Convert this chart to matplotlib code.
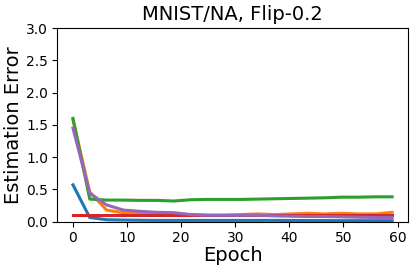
import numpy as np
import matplotlib.pyplot as plt

epochs = np.linspace(0, 59, 20)

err_blue = [0.57, 0.065, 0.03, 0.025, 0.022, 0.02, 0.02, 0.02, 0.02, 0.02,
            0.02, 0.02, 0.02, 0.018, 0.018, 0.017, 0.016, 0.016, 0.015, 0.015]
err_orange = [1.58, 0.46, 0.18, 0.14, 0.13, 0.125, 0.12, 0.11, 0.10, 0.10,
              0.11, 0.12, 0.11, 0.12, 0.13, 0.12, 0.13, 0.12, 0.12, 0.145]
err_green = [1.60, 0.35, 0.335, 0.335, 0.33, 0.33, 0.32, 0.34, 0.345, 0.345,
             0.345, 0.35, 0.355, 0.36, 0.365, 0.37, 0.38, 0.38, 0.385, 0.385]
err_red = [0.105] * 20
err_purple = [1.45, 0.44, 0.26, 0.18, 0.16, 0.145, 0.14, 0.11, 0.10, 0.10,
              0.10, 0.10, 0.09, 0.085, 0.08, 0.08, 0.075, 0.07, 0.065, 0.065]

spread_blue = [0.05, 0.01, 0.005, 0.005, 0.005, 0.005, 0.005, 0.005, 0.005, 0.005,
               0.005, 0.005, 0.005, 0.005, 0.005, 0.005, 0.005, 0.005, 0.005, 0.005]
spread_orange = [0.02, 0.03, 0.02, 0.01, 0.01, 0.01, 0.01, 0.015, 0.01, 0.015,
                 0.015, 0.02, 0.015, 0.02, 0.02, 0.015, 0.02, 0.015, 0.015, 0.02]
spread_green = [0.02, 0.01, 0.01, 0.01, 0.01, 0.01, 0.01, 0.01, 0.01, 0.01,
                0.01, 0.01, 0.01, 0.01, 0.01, 0.01, 0.01, 0.01, 0.01, 0.01]
spread_red = [0.0] * 20
spread_purple = [0.03, 0.02, 0.01, 0.01, 0.01, 0.01, 0.01, 0.01, 0.01, 0.01,
                 0.01, 0.01, 0.01, 0.01, 0.01, 0.01, 0.01, 0.01, 0.01, 0.01]

series = [(err_blue, spread_blue), (err_orange, spread_orange),
          (err_green, spread_green), (err_red, spread_red),
          (err_purple, spread_purple)]

fig, ax = plt.subplots(figsize=(4.16, 2.72), dpi=100)
fig.subplots_adjust(left=0.137, right=0.981, bottom=0.185, top=0.897)

for i, (mean, spread) in enumerate(series):
    mean = np.array(mean)
    spread = np.array(spread)
    ax.plot(epochs, mean, color=f'C{i}', lw=2.2)
    ax.fill_between(epochs, mean - spread, mean + spread, color=f'C{i}', alpha=0.3, lw=0)

ax.set_ylim(0, 3.0)
ax.set_xticks([0, 10, 20, 30, 40, 50, 60])
ax.set_title('MNIST/NA, Flip-0.2', fontsize=14)
ax.set_xlabel('Epoch', fontsize=14, labelpad=1)
ax.set_ylabel('Estimation Error', fontsize=14, labelpad=2)
ax.tick_params(labelsize=10, pad=3)

plt.savefig('out.png', dpi=100)
